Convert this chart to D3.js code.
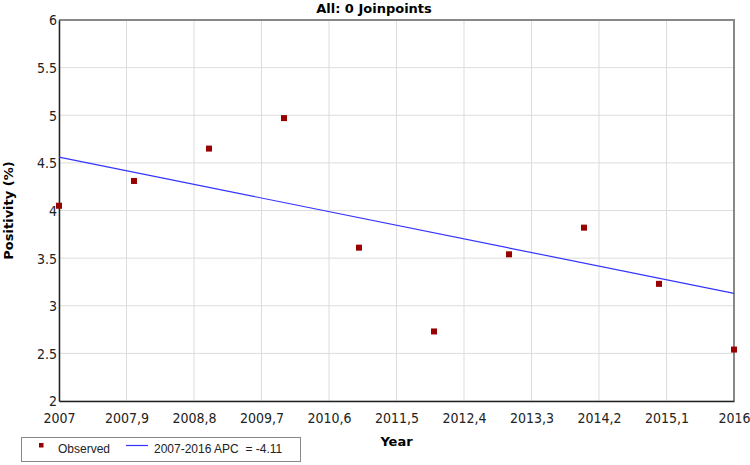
<!DOCTYPE html>
<html lang="en">
<head>
<meta charset="utf-8">
<title>All: 0 Joinpoints</title>
<style>
  body {margin: 0; background: #fff;}
  svg  {display: block;}
  .tick text {font-family: "DejaVu Sans Condensed", "DejaVu Sans", sans-serif; font-size: 14px; fill: #222;}
  .grid line {stroke: #ddd;}
  .title, .axis-label {font-family: "DejaVu Sans", Verdana, sans-serif; font-weight: bold; font-size: 13px;}
  .legend text {font-family: "Liberation Sans", Arial, sans-serif; font-size: 12px; fill: #222;}
</style>
</head>
<body>
<svg id="chart" width="750" height="465"></svg>

<script src="https://d3js.org/d3.v7.min.js"></script>
<script>
// observed positivity by year
const years    = [2007, 2008, 2009, 2010, 2011, 2012, 2013, 2014, 2015, 2016];
const observed = [4.05, 4.31, 4.65, 4.97, 3.61, 2.73, 3.54, 3.82, 3.23, 2.54];

// fitted segment endpoints (2007-2016, APC = -4.11)
const fitYears  = [2007, 2016];
const fitValues = [4.56, 3.13];

// axis ticks as the original tool printed them
const xTicks      = [2007, 2007.9, 2008.8, 2009.7, 2010.6, 2011.5, 2012.4, 2013.3, 2014.2, 2015.1, 2016];
const xTickLabels = ["2007", "2007,9", "2008,8", "2009,7", "2010,6", "2011,5", "2012,4", "2013,3", "2014,2", "2015,1", "2016"];
const yTicks      = [2, 2.5, 3, 3.5, 4, 4.5, 5, 5.5, 6];

const svg = d3.select("#chart");
const m = {top: 20, right: 16, bottom: 64, left: 59};
const W = 750, H = 465;
const w = W - m.left - m.right, h = H - m.top - m.bottom;

const x = d3.scaleLinear().domain([2007, 2016]).range([0, w]);
const y = d3.scaleLinear().domain([2, 6]).range([h, 0]);

const g = svg.append("g").attr("transform", `translate(${m.left},${m.top})`);

// gridlines
g.append("g").attr("class", "grid")
  .selectAll("line").data(xTicks).join("line")
    .attr("x1", d => x(d)).attr("x2", d => x(d))
    .attr("y1", 0).attr("y2", h);
g.append("g").attr("class", "grid")
  .selectAll("line").data(yTicks).join("line")
    .attr("x1", 0).attr("x2", w)
    .attr("y1", d => y(d)).attr("y2", d => y(d));

// top/right frame in gray
g.append("path")
  .attr("d", `M0,0H${w}V${h}`)
  .attr("fill", "none").attr("stroke", "#888").attr("stroke-width", 2);

// axes
const xAxis = g.append("g").attr("transform", `translate(0,${h})`)
  .call(d3.axisBottom(x).tickValues(xTicks).tickSize(0).tickPadding(12)
    .tickFormat((d, i) => xTickLabels[i]));
const yAxis = g.append("g")
  .call(d3.axisLeft(y).tickValues(yTicks).tickSize(0).tickPadding(2)
    .tickFormat(d3.format("")));
[xAxis, yAxis].forEach(a => a.select(".domain").attr("stroke", "#222").attr("stroke-width", 1.5));
yAxis.selectAll(".tick text").attr("dy", "0.35em");

// fitted line
const line = d3.line().x(d => x(d[0])).y(d => y(d[1]));
g.append("path")
  .datum(d3.zip(fitYears, fitValues))
  .attr("d", line)
  .attr("fill", "none").attr("stroke", "#3333ff").attr("stroke-width", 1.2);

// observed points
const ms = 6;
g.selectAll("rect.obs").data(d3.zip(years, observed)).join("rect")
  .attr("class", "obs")
  .attr("x", d => x(d[0]) - ms / 2).attr("y", d => y(d[1]) - ms / 2)
  .attr("width", ms).attr("height", ms)
  .attr("fill", "#990000");

// title & axis labels
svg.append("text").attr("class", "title")
  .attr("x", 374).attr("y", 13).attr("text-anchor", "middle")
  .text("All: 0 Joinpoints");
svg.append("text").attr("class", "axis-label")
  .attr("x", m.left + w / 2).attr("y", 446).attr("text-anchor", "middle")
  .text("Year");
svg.append("text").attr("class", "axis-label")
  .attr("transform", `translate(13,${m.top + h / 2}) rotate(-90)`)
  .attr("text-anchor", "middle")
  .text("Positivity (%)");

// legend
const lg = svg.append("g").attr("class", "legend");
lg.append("rect").attr("x", 21.5).attr("y", 437.5).attr("width", 279).attr("height", 24)
  .attr("fill", "#fff").attr("stroke", "#888");
lg.append("rect").attr("x", 39).attr("y", 443).attr("width", 4.5).attr("height", 4.5).attr("fill", "#990000");
lg.append("text").attr("x", 58).attr("y", 452.5).text("Observed");
lg.append("line").attr("x1", 126).attr("x2", 148).attr("y1", 445.5).attr("y2", 445.5)
  .attr("stroke", "#3333ff").attr("stroke-width", 1.2);
lg.append("text").attr("x", 154).attr("y", 452.5).attr("xml:space", "preserve").text("2007-2016 APC  = -4.11");
</script>
</body>
</html>
